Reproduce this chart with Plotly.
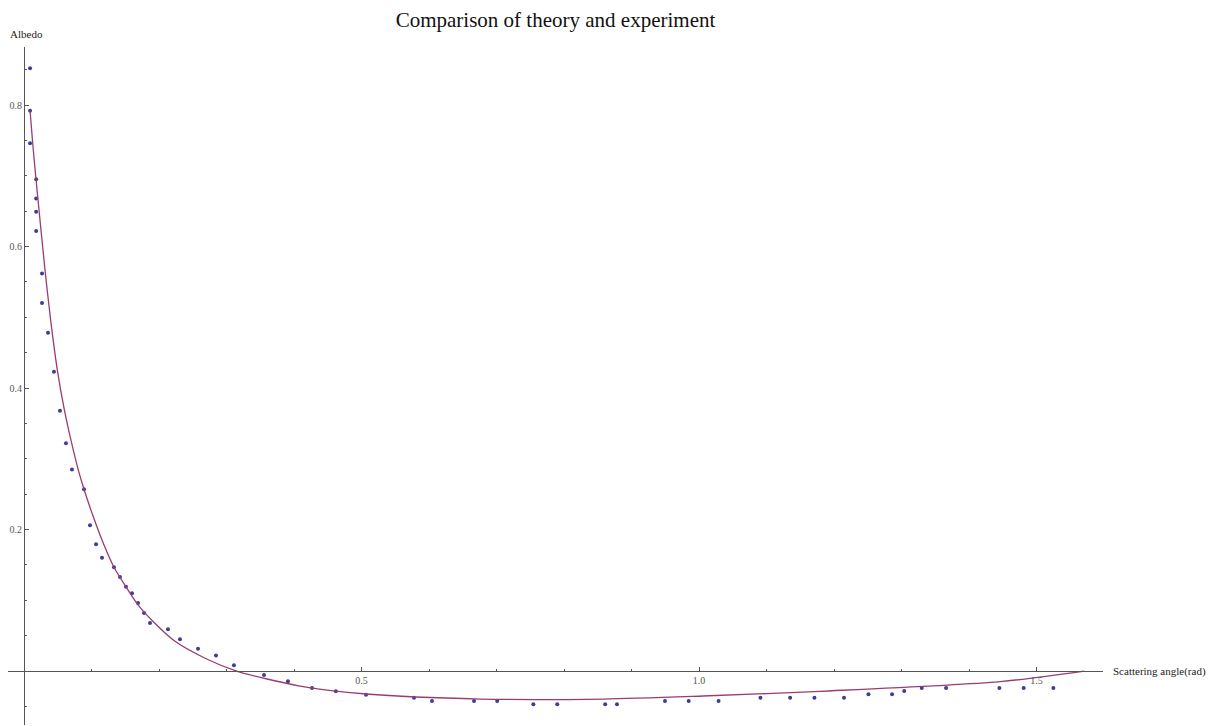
import plotly.graph_objects as go

# Experimental data (scattering angle in rad, albedo)
exp_x = [0.009, 0.009, 0.009, 0.018, 0.018, 0.018, 0.018, 0.0267, 0.0267, 0.0356,
         0.0444, 0.0533, 0.0622, 0.0711, 0.0889, 0.0978, 0.1067, 0.1156, 0.1333, 0.1422,
         0.1511, 0.16, 0.1689, 0.1778, 0.1867, 0.2133, 0.2311, 0.2578, 0.2844, 0.311,
         0.3556, 0.391, 0.4267, 0.462, 0.5067, 0.5778, 0.6044, 0.6667, 0.701, 0.7546,
         0.790, 0.861, 0.8785, 0.9496, 0.9847, 1.029, 1.091, 1.135, 1.171, 1.2148,
         1.251, 1.286, 1.304, 1.330, 1.366, 1.445, 1.481, 1.525]
exp_y = [0.852, 0.792, 0.746, 0.695, 0.668, 0.649, 0.622, 0.562, 0.520, 0.478,
         0.423, 0.368, 0.322, 0.285, 0.257, 0.206, 0.179, 0.160, 0.1466, 0.1329,
         0.119, 0.110, 0.096, 0.082, 0.068, 0.059, 0.045, 0.0316, 0.022, 0.008,
         -0.0057, -0.0146, -0.024, -0.0287, -0.0335, -0.0377, -0.0424, -0.0424, -0.0424, -0.047,
         -0.047, -0.047, -0.047, -0.0424, -0.0424, -0.0424, -0.0377, -0.0377, -0.0377, -0.0377,
         -0.033, -0.033, -0.0283, -0.024, -0.024, -0.024, -0.024, -0.024]

# Theory curve
th_x = [0.009, 0.0129, 0.0178, 0.0311, 0.0395, 0.0494, 0.0598, 0.0706, 0.0805, 0.0889,
        0.1027, 0.1175, 0.1333, 0.1511, 0.1719, 0.2212, 0.2706, 0.315, 0.409, 0.507,
        0.676, 0.858, 1.006, 1.179, 1.446, 1.5708]
th_y = [0.792, 0.746, 0.695, 0.567, 0.496, 0.4254, 0.369, 0.322, 0.284, 0.257,
        0.218, 0.1805, 0.1466, 0.119, 0.090, 0.0438, 0.017, 0.0, -0.0212, -0.0325,
        -0.0396, -0.0396, -0.0353, -0.0287, -0.015, 0.0]

x_ticks = [0.5, 1.0, 1.5]
x_ticktext = ["0.5", "1.0", "1.5"]
y_ticks = [0.2, 0.4, 0.6, 0.8]
y_ticktext = ["0.2", "0.4", "0.6", "0.8"]

title = "Comparison of theory and experiment"
x_label = "Scattering angle(rad)"
y_label = "Albedo"

x_range = [-0.0237, 1.5985]
y_range = [-0.0763, 0.882]

# page body has an 8px margin, so the figure is sized to end at the window edge
W, H = 1207, 718
ml, mr, mt, mb = 0, 112, 39, 1

fig = go.Figure()
fig.add_trace(go.Scatter(x=exp_x, y=exp_y, mode="markers",
                         marker=dict(color="#3d3d99", size=4), showlegend=False))
fig.add_trace(go.Scatter(x=th_x, y=th_y, mode="lines",
                         line=dict(color="#993d71", width=1.3, shape="spline", smoothing=0.8),
                         showlegend=False))

xpos = (0 - y_range[0]) / (y_range[1] - y_range[0])
ypos = (0 - x_range[0]) / (x_range[1] - x_range[0])

axis_col = "#555555"
tick_font = dict(family="Liberation Serif", size=10, color="#555555")

fig.update_layout(
    width=W, height=H,
    margin=dict(l=ml, r=mr, t=mt, b=mb),
    paper_bgcolor="white", plot_bgcolor="white",
    title=dict(text=title, x=0.5, xref="paper", y=1 - 12 / H, yref="container",
               yanchor="middle", xanchor="center",
               font=dict(family="Liberation Serif", size=21, color="#111111")),
    xaxis=dict(range=x_range, anchor="free", position=xpos, showgrid=False, zeroline=False,
               showline=True, linecolor=axis_col, linewidth=1,
               tickmode="array", tickvals=x_ticks, ticktext=x_ticktext,
               ticks="inside", ticklen=4, tickcolor=axis_col, tickfont=tick_font,
               minor=dict(dtick=0.1, tick0=0, ticks="inside", ticklen=2, tickcolor=axis_col),
               automargin=False),
    yaxis=dict(range=y_range, anchor="free", position=ypos, showgrid=False, zeroline=False,
               showline=True, linecolor=axis_col, linewidth=1,
               tickmode="array", tickvals=y_ticks, ticktext=y_ticktext,
               ticks="inside", ticklen=4, tickcolor=axis_col, tickfont=tick_font,
               minor=dict(dtick=0.05, tick0=0, ticks="inside", ticklen=2, tickcolor=axis_col),
               automargin=False),
    annotations=[
        dict(text=y_label, xref="paper", yref="paper", x=0, y=1, xanchor="left",
             yanchor="bottom", yshift=5, showarrow=False,
             font=dict(family="Liberation Serif", size=11, color="#222222")),
        dict(text=x_label, xref="paper", yref="paper", x=1, y=xpos, xanchor="left",
             yanchor="middle", xshift=8, showarrow=False,
             font=dict(family="Liberation Serif", size=11, color="#222222")),
    ],
)

fig.write_html("out.html")
